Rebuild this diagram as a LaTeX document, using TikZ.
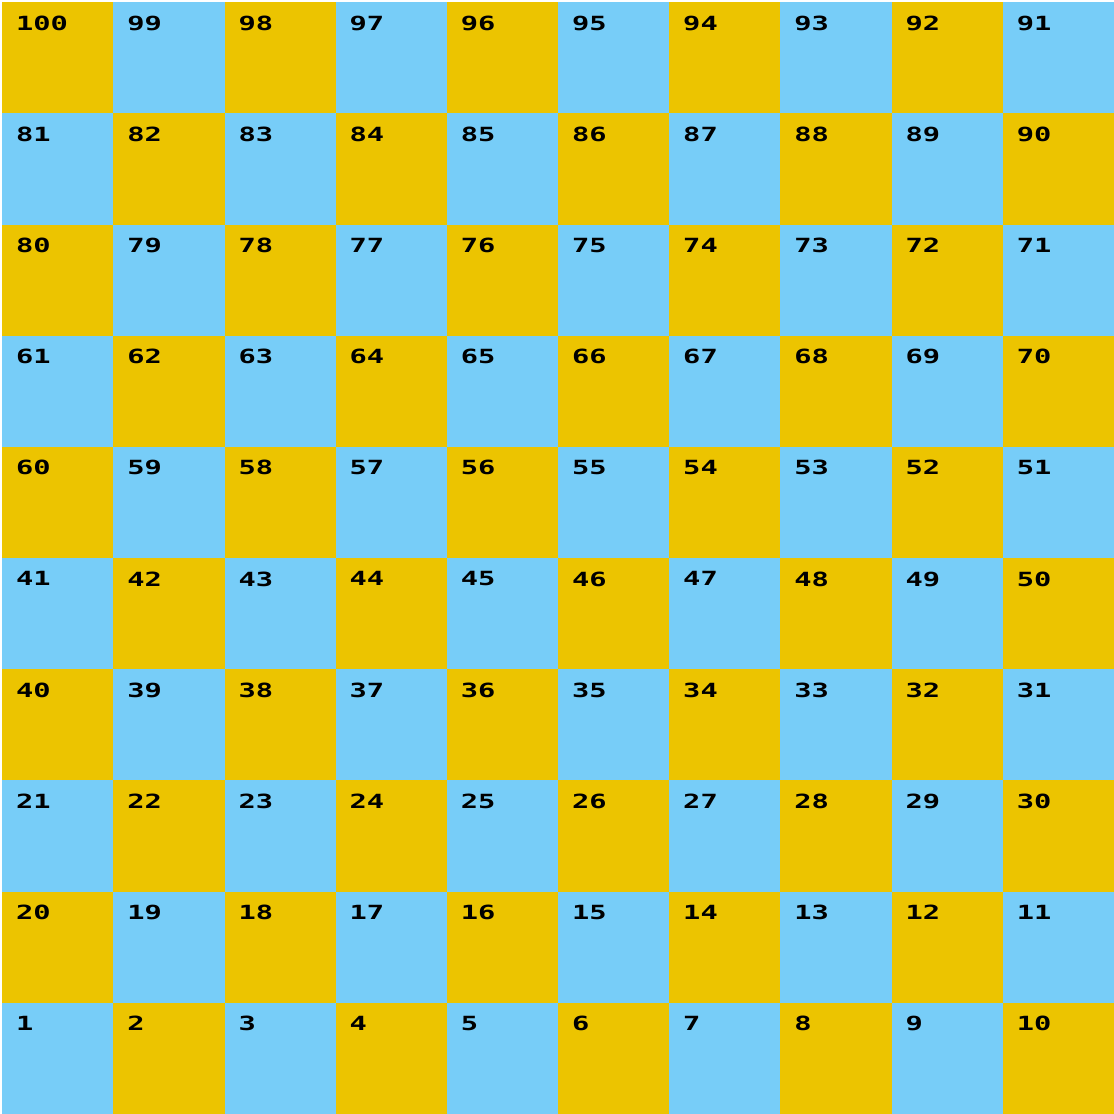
\documentclass[tikz,border=0pt]{standalone}
\usepackage{fontspec}
\setmonofont{DejaVu Sans Mono}
\usepackage{xcolor}
\usepackage{tikz}
\usetikzlibrary{positioning}

\definecolor{boardgold}{HTML}{ECC400}
\definecolor{boardsky}{HTML}{77CDF8}

\begin{document}
\begin{tikzpicture}[every node/.style={font=\ttfamily\bfseries}]
        \tikzstyle{cell} = [rectangle, draw=none, minimum size=1cm, inner sep=0pt, outer sep=0pt]
        \tikzstyle{num} = [anchor=north west, inner sep=0pt, text=black,
            font=\ttfamily\bfseries\fontsize{5}{6}\selectfont, xscale=1.47, transform shape]

        \useasboundingbox (-0.02,0) rectangle (10,10.02);

        % board squares, numbered boustrophedon from the bottom row
        \foreach \r in {0,...,9} {
            \foreach \c in {0,...,9} {
                \pgfmathtruncatemacro{\n}{mod(\r,2)==0 ? 10*\r+\c+1 : 10*\r+10-\c}
                \pgfmathtruncatemacro{\p}{mod(\r+\c,2)}
                \ifnum\p=0 \def\fillc{boardsky}\else\def\fillc{boardgold}\fi
                \node (cell\n) [cell, fill=\fillc] at (\c+0.5,\r+0.5) {};
                \node (lab\n) [num] at ([xshift=0.115cm, yshift=-0.115cm]cell\n.north west) {\n};
            }
        }
    \end{tikzpicture}
\end{document}
